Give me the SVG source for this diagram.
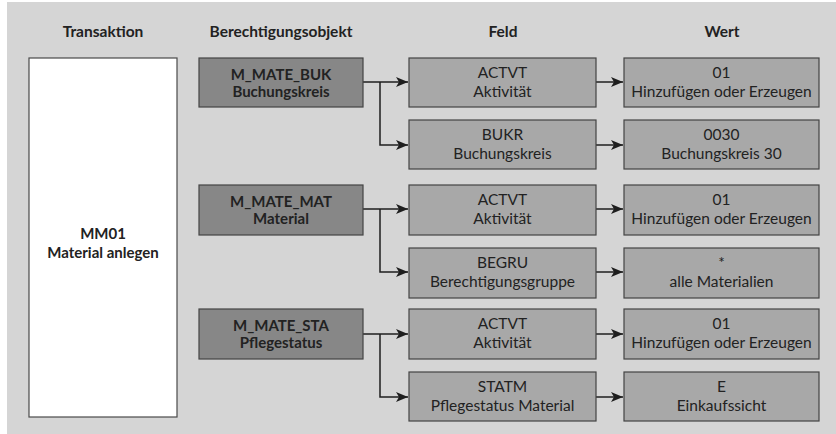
<svg xmlns="http://www.w3.org/2000/svg" width="836" height="434" viewBox="0 0 836 434">
<defs>
<style>
.bg{fill:#d5d5d5}
.t{fill:#ffffff;stroke:#4a4a4a;stroke-width:1.2}
.o{fill:#878787;stroke:#444;stroke-width:1.2}
.f{fill:#a8a8a8;stroke:#444;stroke-width:1.2}
text{font-family:Lato,"Open Sans","Liberation Sans",sans-serif;font-size:15.5px;fill:#222;text-anchor:middle}
.b{font-weight:bold;font-size:15px}
.h{font-weight:bold;font-size:15.5px}
.c{fill:none;stroke:#1e1e1e;stroke-width:1.5}
</style>
<marker id="ah" markerWidth="14" markerHeight="12" refX="12" refY="5" orient="auto" markerUnits="userSpaceOnUse" viewBox="0 0 14 12">
<path d="M0,0 L12,5 L0,10 L3,5 Z" fill="#1e1e1e"/>
</marker>
</defs>
<rect class="bg" x="7" y="2" width="829" height="432"/>
<g id="headers">
<text class="h" x="103" y="37">Transaktion</text>
<text class="h" x="281" y="37">Berechtigungsobjekt</text>
<text class="h" x="503" y="37">Feld</text>
<text class="h" x="722" y="37">Wert</text>
</g>
<g id="connectors">
<path class="c" d="M363,82 H408" marker-end="url(#ah)"/>
<path class="c" d="M380,82 V145 H408" marker-end="url(#ah)"/>
<path class="c" d="M363,209 H408" marker-end="url(#ah)"/>
<path class="c" d="M380,209 V272 H408" marker-end="url(#ah)"/>
<path class="c" d="M363,334 H408" marker-end="url(#ah)"/>
<path class="c" d="M380,334 V397 H408" marker-end="url(#ah)"/>
<path class="c" d="M596,82 H623" marker-end="url(#ah)"/>
<path class="c" d="M596,145 H623" marker-end="url(#ah)"/>
<path class="c" d="M596,209 H623" marker-end="url(#ah)"/>
<path class="c" d="M596,272 H623" marker-end="url(#ah)"/>
<path class="c" d="M596,334 H623" marker-end="url(#ah)"/>
<path class="c" d="M596,397 H623" marker-end="url(#ah)"/>
</g>
<g id="transaktion">
<rect class="t" x="29" y="58" width="148" height="359"/>
<text class="b" x="103" y="239">MM01</text>
<text class="b" x="103" y="258">Material anlegen</text>
</g>
<g id="obj-buk">
<rect class="o" x="199" y="58" width="164" height="49"/>
<text class="b" x="281" y="80">M_MATE_BUK</text>
<text class="b" x="281" y="97">Buchungskreis</text>
</g>
<g id="obj-mat">
<rect class="o" x="199" y="185" width="164" height="50"/>
<text class="b" x="281" y="207">M_MATE_MAT</text>
<text class="b" x="281" y="224">Material</text>
</g>
<g id="obj-sta">
<rect class="o" x="199" y="309" width="164" height="50"/>
<text class="b" x="281" y="331">M_MATE_STA</text>
<text class="b" x="281" y="348">Pflegestatus</text>
</g>
<g id="feld-1">
<rect class="f" x="409" y="58" width="187" height="49"/>
<text x="502.5" y="78">ACTVT</text>
<text x="502.5" y="97">Aktivität</text>
</g>
<g id="feld-2">
<rect class="f" x="409" y="120" width="187" height="49"/>
<text x="502.5" y="140">BUKR</text>
<text x="502.5" y="159">Buchungskreis</text>
</g>
<g id="feld-3">
<rect class="f" x="409" y="185" width="187" height="50"/>
<text x="502.5" y="205">ACTVT</text>
<text x="502.5" y="224">Aktivität</text>
</g>
<g id="feld-4">
<rect class="f" x="409" y="248" width="187" height="50"/>
<text x="502.5" y="268">BEGRU</text>
<text x="502.5" y="287">Berechtigungsgruppe</text>
</g>
<g id="feld-5">
<rect class="f" x="409" y="309" width="187" height="50"/>
<text x="502.5" y="329">ACTVT</text>
<text x="502.5" y="348">Aktivität</text>
</g>
<g id="feld-6">
<rect class="f" x="409" y="372" width="187" height="49"/>
<text x="502.5" y="392">STATM</text>
<text x="502.5" y="411">Pflegestatus Material</text>
</g>
<g id="wert-1">
<rect class="f" x="624" y="58" width="195" height="49"/>
<text x="721.5" y="78">01</text>
<text x="721.5" y="97">Hinzufügen oder Erzeugen</text>
</g>
<g id="wert-2">
<rect class="f" x="624" y="120" width="195" height="49"/>
<text x="721.5" y="140">0030</text>
<text x="721.5" y="159">Buchungskreis 30</text>
</g>
<g id="wert-3">
<rect class="f" x="624" y="185" width="195" height="50"/>
<text x="721.5" y="205">01</text>
<text x="721.5" y="224">Hinzufügen oder Erzeugen</text>
</g>
<g id="wert-4">
<rect class="f" x="624" y="248" width="195" height="50"/>
<text x="721.5" y="268">*</text>
<text x="721.5" y="287">alle Materialien</text>
</g>
<g id="wert-5">
<rect class="f" x="624" y="309" width="195" height="50"/>
<text x="721.5" y="329">01</text>
<text x="721.5" y="348">Hinzufügen oder Erzeugen</text>
</g>
<g id="wert-6">
<rect class="f" x="624" y="372" width="195" height="49"/>
<text x="721.5" y="392">E</text>
<text x="721.5" y="411">Einkaufssicht</text>
</g>
</svg>
